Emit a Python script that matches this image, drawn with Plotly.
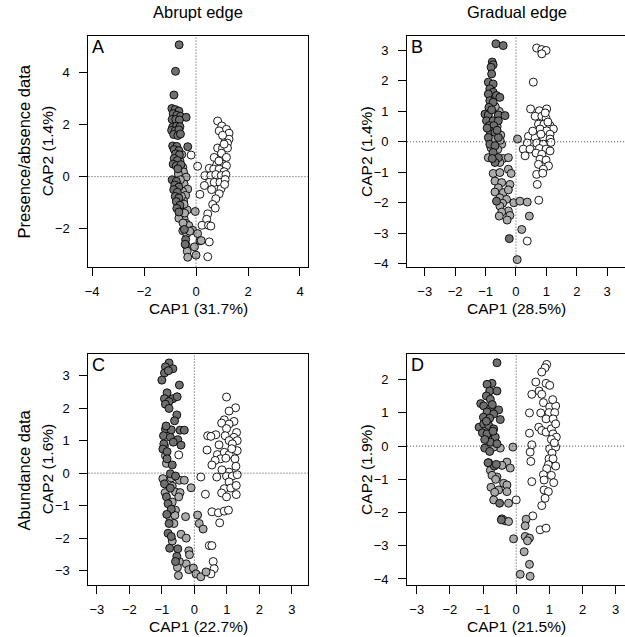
import plotly.graph_objects as go

# ---------------- data (CAP1, CAP2 scores) ----------------
col_titles = ["Abrupt edge", "Gradual edge"]
row_titles = ["Presence/absence data", "Abundance data"]
panel_letters = ["A", "B", "C", "D"]
x_titles = ["CAP1 (31.7%)", "CAP1 (28.5%)", "CAP1 (22.7%)", "CAP1 (21.5%)"]
y_titles = ["CAP2 (1.4%)", "CAP2 (1.4%)", "CAP2 (1.6%)", "CAP2 (1.9%)"]

A_dark = [(-0.65,5.07),(-0.79,4.05),(-0.85,3.14),
          (-0.93,2.62),(-0.8,2.58),(-0.66,2.52),(-0.88,2.42),(-0.74,2.36),(-0.6,2.32),(-0.38,2.28),(-0.92,2.2),(-0.78,2.2),(-0.64,2.18),
          (-0.9,1.9),(-0.75,1.94),(-0.62,1.92),(-0.94,1.78),(-0.8,1.76),(-0.66,1.8),(-0.86,1.62),(-0.7,1.58),(-0.6,1.64),
          (-0.32,1.15),(-0.9,1.18),(-0.74,1.16),(-0.84,1.04),(-0.66,1.0),(-0.78,0.88),(-0.64,0.84),(-0.84,0.7),(-0.72,0.62),(-0.88,0.48),(-0.76,0.42),(-0.58,0.46),(-0.7,0.3),
          (-0.92,-0.12),(-0.76,-0.18),(-0.82,-0.32),(-0.66,-0.4),(-0.86,-0.5),(-0.72,-0.6),(-0.8,-0.76),(-0.66,-0.82),(-0.76,-0.96),(-0.62,-1.1),(-0.74,-1.22),(-0.66,-1.36),
          (-0.45,-2.03),(-0.4,-2.42),(-0.42,-2.6)]
A_light = [(-0.51,0.36),(-0.58,0.08),(-0.48,0.18),(-0.38,-0.02),(-0.46,-0.28),(-0.32,-0.48),(-0.52,-0.56),(-0.4,-0.72),(-0.48,-0.92),(-0.34,-1.28),
           (-0.58,-1.2),(-0.46,-1.06),(-0.6,-1.5),(-0.46,-1.62),(-0.38,-1.8),(-0.28,-1.88),(-0.03,-1.34),(-0.13,-2.06),(0.06,-2.19),(0.15,-2.47),
           (0.2,-2.46),(-0.06,-2.7),(-0.38,-2.64),(-0.34,-2.87),(-0.32,-3.1),(0.0,-3.02),(-0.51,-2.08),(-0.68,0.1),(-0.6,-0.12),(-0.56,-0.76),
           (-0.66,-1.6),(-0.54,-1.36),(-0.5,-1.78),(-0.72,-0.3),(-0.62,0.6),(-0.55,0.85),(-0.44,-1.4),(-0.36,-2.2),(-0.24,-2.1)]
A_white = [(0.83,2.14),(0.99,1.95),(1.17,1.82),(1.27,1.67),(0.89,1.76),(1.12,1.44),(1.27,1.44),(1.02,1.59),(1.21,1.29),(0.83,1.1),
           (1.02,1.1),(1.21,1.1),(0.7,0.74),(0.98,0.9),(1.17,0.74),(0.79,0.45),(1.02,0.48),(1.17,0.42),(0.51,0.32),(0.68,0.29),
           (0.89,0.29),(1.08,0.19),(0.34,0.04),(0.57,0.04),(0.76,0.08),(0.97,0.04),(1.15,0.08),(0.51,-0.22),(0.7,-0.22),(0.92,-0.22),
           (1.12,-0.11),(0.32,-0.34),(0.96,-0.47),(0.89,-0.66),(0.76,-0.85),(0.64,-1.07),(0.74,-1.21),(0.45,-1.43),(0.41,-1.64),(0.23,-1.87),
           (0.48,-1.87),(0.57,-1.9),(0.51,-2.51),(0.45,-3.08),(0.06,0.4),(-0.19,0.83),(0.15,-0.68),(1.08,1.25),(0.88,0.6),(1.1,-0.3),(0.6,-0.5)]

B_dark = [(-0.66,3.22),(-0.42,3.16),(-0.78,2.62),(-0.75,2.53),(-0.82,2.45),(-0.8,2.23),(-0.91,1.96),(-0.75,1.9),(-0.86,1.74),(-0.75,1.63),
          (-0.91,1.57),(-0.64,1.52),(-0.53,1.46),(-0.86,1.35),(-0.75,1.3),(-0.89,1.13),(-1.02,0.91),(-0.91,0.88),(-0.58,0.88),(-0.36,0.86),
          (-0.97,0.69),(-0.75,0.69),(-0.58,0.69),(-0.88,0.53),(-0.73,0.53),(-0.86,0.36),(-0.69,0.31),(-0.91,0.14),(-0.58,0.14),(-0.86,-0.08),
          (-0.69,-0.13),(-0.75,-0.35),(-0.58,-0.52),(-0.69,-0.68),(-0.22,-3.18),(-0.8,1.05),(-0.95,0.45),(-0.62,0.38),(-0.78,-0.55),(-0.64,-1.95)]
B_light = [(0.05,0.09),(-0.47,-0.08),(-0.91,-0.52),(-0.42,-0.55),(-0.25,-0.52),(-0.53,-0.68),(-0.25,-0.9),(-0.16,-1.04),(-0.75,-1.04),(-0.53,-1.01),
           (-0.69,-1.29),(-0.47,-1.34),(-0.2,-1.4),(-0.58,-1.51),(-0.69,-1.65),(-0.42,-1.67),(-0.25,-1.58),(-0.53,-1.84),(-0.31,-1.89),(-0.07,-2.0),
           (0.13,-1.95),(0.37,-1.98),(-0.44,-2.02),(-0.53,-2.11),(-0.25,-2.27),(-0.47,-2.31),(-0.55,-2.44),(-0.2,-2.42),(-0.29,-2.57),(0.44,-2.44),
           (0.19,-2.88),(0.04,-3.87),(-0.62,0.5),(-0.5,0.22),(-0.72,0.1),(-0.82,-0.2),(-0.6,-0.25),(-0.52,0.05),(-0.55,1.0),(-0.68,1.15)]
B_white = [(0.68,3.08),(0.85,3.03),(0.99,3.0),(0.85,2.89),(0.57,1.96),(0.48,1.08),(0.77,1.02),(1.01,1.08),(0.63,0.84),(0.85,0.84),
           (0.99,0.77),(0.74,0.58),(0.92,0.58),(1.12,0.53),(1.23,0.42),(0.79,0.42),(1.01,0.36),(1.12,0.25),(0.41,0.18),(0.63,0.14),
           (0.9,0.14),(1.12,0.09),(0.37,-0.04),(0.68,-0.04),(0.9,-0.08),(1.15,-0.02),(0.24,-0.24),(0.46,-0.24),(0.77,-0.22),(0.99,-0.24),
           (0.3,-0.46),(0.66,-0.37),(0.85,-0.41),(1.12,-0.3),(0.79,-0.57),(0.99,-0.6),(0.74,-0.74),(1.07,-0.79),(0.9,-0.9),(0.68,-1.07),
           (0.88,-1.03),(0.7,-1.4),(0.75,-1.92),(0.37,-3.26),(0.96,0.95),(1.05,0.65),(0.55,0.35),(0.82,0.25)]

C_dark = [(-0.78,3.39),(-0.89,3.27),(-0.66,3.21),(-0.92,3.08),(-0.8,3.15),(-1.0,2.86),(-0.46,2.71),(-0.84,2.47),(-0.92,2.29),(-0.66,2.29),
          (-0.53,2.35),(-0.78,2.2),(-0.89,2.12),(-0.78,1.99),(-0.54,1.79),(-0.61,1.61),(-0.89,1.35),(-0.71,1.33),(-0.44,1.32),(-0.31,1.32),
          (-0.95,1.15),(-0.74,1.1),(-0.51,1.03),(-0.94,0.9),(-0.41,0.86),(-0.97,0.74),(-0.84,0.66),(-0.84,0.44),(-0.68,0.25),(-0.74,-0.02),
          (-0.58,-0.09),(-0.92,-0.33),(-0.74,-0.46),(-0.86,-0.73),(-0.81,-0.94),(-0.71,-1.11),(-0.85,-1.27),(-0.78,-1.55),(-0.81,-1.85),(-0.71,-1.95),
          (-0.76,-2.31),(-0.51,-2.33),(-0.54,-2.56),(-0.58,-2.72),(-0.87,1.45),(-0.65,0.95)]
C_light = [(-0.78,1.25),(-0.92,0.84),(-0.89,0.54),(-0.71,-0.15),(-0.46,-0.22),(-0.31,-0.22),(-0.97,-0.17),(-0.68,-0.4),(-0.58,-0.58),(-0.44,-0.6),
           (-0.48,-0.73),(-0.1,-0.45),(-0.68,-0.89),(-0.58,-1.14),(-0.74,-1.39),(-0.63,-1.55),(-0.27,-1.34),(-0.41,-1.88),(-0.25,-2.0),(-0.68,-2.09),
           (-0.17,-2.39),(-0.15,-2.51),(0.1,-1.29),(0.15,-1.55),(0.27,-1.72),(-0.25,-2.79),(-0.46,-2.72),(-0.52,-2.9),(-0.49,-3.15),(-0.17,-2.97),
           (-0.03,-2.92),(0.05,-3.1),(0.2,-3.19),(0.36,-3.04),(-0.86,0.3),(-0.6,-1.3),(-0.9,-0.6)]
C_white = [(0.99,2.34),(1.27,2.01),(1.07,1.91),(0.92,1.64),(1.22,1.59),(0.84,1.54),(1.07,1.51),(0.99,1.37),(1.3,1.25),(0.66,1.18),
           (0.41,1.15),(0.51,1.13),(0.95,1.15),(1.22,1.1),(1.07,1.0),(1.32,1.0),(0.76,0.87),(1.17,0.9),(1.32,0.69),(0.39,0.71),
           (0.71,0.57),(0.92,0.64),(1.07,0.57),(0.81,0.44),(0.64,0.39),(0.97,0.46),(1.25,0.44),(0.54,0.25),(1.28,0.21),(1.07,0.03),
           (0.99,-0.09),(1.17,-0.09),(1.32,-0.05),(0.2,-0.12),(0.69,-0.12),(1.07,-0.27),(0.92,-0.48),(1.12,-0.46),(1.29,-0.38),(0.84,-0.61),
           (0.99,-0.73),(1.29,-0.66),(0.34,-0.65),(0.54,-1.19),(0.74,-1.22),(0.92,-1.17),(1.05,-1.14),(0.78,-1.53),(0.46,-2.23),(0.54,-2.23),
           (0.58,-2.72),(0.61,-2.94),(0.51,-3.1),(-0.48,0.56),(1.15,0.75),(0.85,0.1)]

D_dark = [(-0.58,2.51),(-0.73,1.89),(-0.88,1.86),(-0.8,1.66),(-0.58,1.66),(-0.9,1.51),(-0.78,1.41),(-1.07,1.28),(-0.98,1.21),(-0.78,1.13),
          (-0.53,1.09),(-0.88,1.03),(-0.68,0.97),(-0.99,0.87),(-0.8,0.84),(-0.48,0.8),(-1.12,0.57),(-0.98,0.67),(-0.83,0.62),(-0.68,0.52),
          (-1.02,0.4),(-0.88,0.37),(-0.63,0.27),(-0.78,0.12),(-0.58,0.07),(-0.95,-0.06),(-0.8,-0.16),(-0.66,-0.6),(-0.5,-1.72),(-0.9,0.75),
          (-0.72,1.25),(-0.95,0.2),(-0.7,0.45),(-0.85,-0.5),(-0.6,-0.55),(-0.45,-2.22)]
D_light = [(-0.1,-0.03),(-0.48,-0.06),(-0.68,-0.03),(-0.83,-0.5),(-0.28,-0.48),(-0.43,-0.58),(-0.18,-0.66),(-0.78,-0.73),(-0.58,-0.93),(-0.73,-0.88),
           (-0.38,-1.12),(-0.28,-1.17),(-0.76,-1.24),(-0.53,-1.32),(-0.28,-1.37),(-0.65,-1.39),(-0.68,-1.62),(-0.23,-1.72),(-0.43,-2.19),(-0.33,-2.25),
           (-0.23,-2.27),(0.3,-2.2),(0.27,-2.4),(0.27,-2.72),(0.4,-2.77),(0.34,-2.85),(-0.08,-2.79),(0.24,-3.18),(0.4,-3.56),(0.12,-3.86),
           (0.42,-3.92),(-0.85,0.3),(-0.7,0.2),(-0.9,0.55),(-0.62,-1.0)]
D_white = [(0.92,2.46),(0.87,2.36),(0.77,2.23),(0.59,1.93),(0.9,1.89),(1.01,1.83),(0.69,1.66),(0.47,1.56),(0.77,1.56),(0.82,1.31),
           (1.01,1.18),(1.19,1.21),(0.4,1.0),(0.74,1.0),(0.99,1.01),(1.16,1.01),(0.9,0.82),(1.11,0.82),(0.68,0.57),(0.77,0.47),
           (0.9,0.42),(1.06,0.52),(1.19,0.67),(1.11,0.37),(0.4,0.39),(1.21,0.27),(1.06,0.2),(0.47,0.04),(1.01,-0.08),(1.19,-0.03),
           (0.42,-0.18),(1.08,-0.21),(0.44,-0.46),(0.99,-0.38),(1.11,-0.38),(0.97,-0.56),(1.19,-0.6),(0.92,-0.68),(0.82,-0.86),(1.06,-0.88),
           (0.84,-1.02),(1.13,-1.1),(0.47,-1.07),(0.84,-1.32),(0.97,-1.37),(0.87,-1.57),(0.77,-1.79),(0.5,-2.1),(0.72,-2.52),(0.9,-2.47),
           (0.0,-1.62),(1.1,1.4),(1.15,0.1)]

panel_data = [(A_dark, A_light, A_white), (B_dark, B_light, B_white),
              (C_dark, C_light, C_white), (D_dark, D_light, D_white)]

# axis ranges and ticks (equal aspect per panel)
x_ranges = [[-4.14, 4.31], [-3.58, 3.585], [-3.26, 3.50], [-3.29, 3.28]]
y_ranges = [[-3.46, 5.39], [-4.10, 3.46], [-3.43, 3.65], [-4.17, 2.76]]
x_ticks = [[-4, -2, 0, 2, 4], [-3, -2, -1, 0, 1, 2, 3], [-3, -2, -1, 0, 1, 2, 3], [-3, -2, -1, 0, 1, 2, 3]]
y_ticks = [[-2, 0, 2, 4], [-4, -3, -2, -1, 0, 1, 2, 3], [-3, -2, -1, 0, 1, 2, 3], [-4, -3, -2, -1, 0, 1, 2]]

# ---------------- layout geometry (pixels) ----------------
W, H = 625, 637
# left, right, top, bottom of each plot box (right column box is cut by the page edge)
boxes = [(85, 306, 36.7, 268.3), (405.7, 625, 36.7, 268.3),
         (85, 306, 356.7, 588.3), (405.7, 625, 356.7, 588.3)]
BOX_W = 221

FONT = "Liberation Sans, Arial, Helvetica, sans-serif"
DARK, LIGHT, WHITE = "#6f6f6f", "#ababab", "#ffffff"

fig = go.Figure()
shapes = []
annotations = []

for i, (groups, box) in enumerate(zip(panel_data, boxes)):
    n = "" if i == 0 else str(i + 1)
    xa, ya = "x" + n, "y" + n
    dark, light, white = groups
    for pts, fc in [(white, WHITE), (light, LIGHT), (dark, DARK)]:
        fig.add_trace(go.Scatter(
            x=[p[0] for p in pts], y=[p[1] for p in pts], mode="markers",
            marker=dict(size=8, color=fc, line=dict(color="black", width=0.9)),
            xaxis=xa, yaxis=ya, showlegend=False, hoverinfo="skip"))
    l, r, t, b = box
    right_open = r >= W
    axis_common = dict(showgrid=False, zeroline=False, showline=True, linecolor="black",
                       linewidth=1, ticks="outside", ticklen=8, tickwidth=1, tickcolor="black",
                       tickfont=dict(family=FONT, size=13, color="black"))
    fig.layout["xaxis" + n] = dict(axis_common, domain=[l / W, min(r / W, 1.0)], range=x_ranges[i],
                                   tickvals=x_ticks[i], mirror=True, anchor=ya,
                                   ticklabelstandoff=5)
    fig.layout["yaxis" + n] = dict(axis_common, domain=[1 - b / H, 1 - t / H], range=y_ranges[i],
                                   tickvals=y_ticks[i], mirror=(not right_open), anchor=xa,
                                   ticklabelstandoff=7)
    # dotted zero lines
    shapes.append(dict(type="line", xref=xa, yref=ya + " domain", x0=0, x1=0, y0=0, y1=1,
                       line=dict(color="#444444", width=1, dash="1px,2px")))
    shapes.append(dict(type="line", xref=xa + " domain", yref=ya, x0=0, x1=1, y0=0, y1=0,
                       line=dict(color="#444444", width=1, dash="1px,2px")))
    # panel letter
    annotations.append(dict(text=panel_letters[i], xref=xa + " domain", yref=ya + " domain",
                            x=0, y=1, xanchor="left", yanchor="top", xshift=2, yshift=1,
                            showarrow=False, font=dict(family=FONT, size=18, color="black")))
    # axis titles
    cx = l + BOX_W / 2
    annotations.append(dict(text=x_titles[i], xref="paper", yref="paper",
                            x=cx / W, y=1 - (b + 42) / H, xanchor="center", yanchor="middle",
                            showarrow=False, font=dict(family=FONT, size=15.5, color="black")))
    annotations.append(dict(text=y_titles[i], xref="paper", yref="paper",
                            x=(l - 41) / W, y=1 - ((t + b) / 2) / H, xanchor="center", yanchor="middle",
                            textangle=-90, showarrow=False, font=dict(family=FONT, size=15.5, color="black")))

# column titles
for txt, cx in zip(col_titles, [195.5, 516]):
    annotations.append(dict(text=txt, xref="paper", yref="paper", x=cx / W, y=1 - 12 / H,
                            xanchor="center", yanchor="middle", showarrow=False,
                            font=dict(family=FONT, size=16.5, color="black")))
# row titles
for txt, cy in zip(row_titles, [152.5, 472.5]):
    annotations.append(dict(text=txt, xref="paper", yref="paper", x=20 / W, y=1 - cy / H,
                            xanchor="center", yanchor="middle", textangle=-90, showarrow=False,
                            font=dict(family=FONT, size=16.5, color="black")))

fig.update_layout(width=W, height=H, margin=dict(l=0, r=0, t=0, b=0),
                  paper_bgcolor="white", plot_bgcolor="white",
                  shapes=shapes, annotations=annotations, showlegend=False)

fig.write_html("out.html")
